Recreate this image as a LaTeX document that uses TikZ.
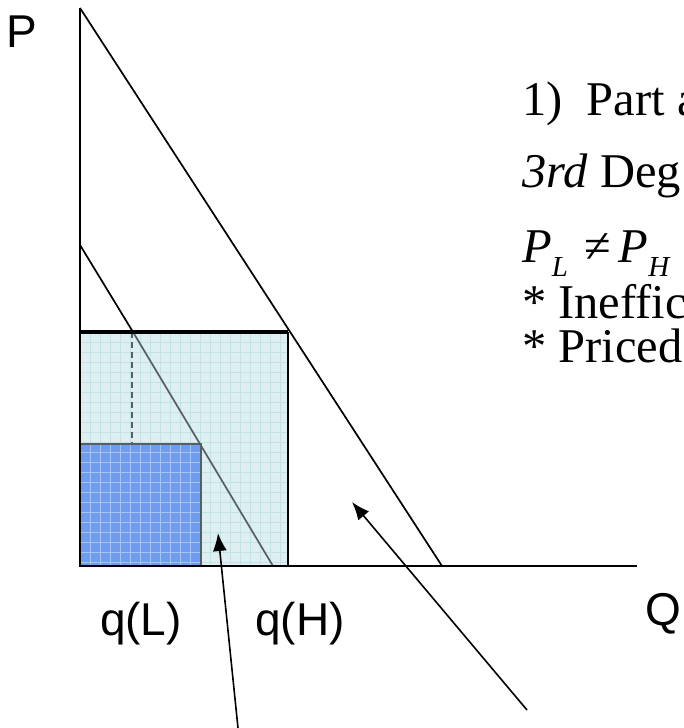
\documentclass[tikz,border=0pt]{standalone}
\usepackage{fontspec}
\setmainfont{Liberation Serif}
\newfontfamily\labelfont{Liberation Sans}
\usetikzlibrary{arrows.meta}
\definecolor{lightfill}{RGB}{221,239,241}
\definecolor{lightgrid}{RGB}{196,226,229}
\definecolor{darkfill}{RGB}{112,156,240}
\definecolor{darkgrid}{RGB}{165,195,247}
\definecolor{grayline}{RGB}{85,95,100}
\tikzset{
  axis/.style={line width=1.8pt, black},
  demand/.style={line width=1.7pt, black},
  lbl/.style={font=\labelfont\fontsize{46}{50}\selectfont, inner sep=0pt, anchor=base},
  txt/.style={font=\fontsize{48.5}{52}\selectfont, inner sep=0pt, anchor=base west},
  pointer/.style={line width=1.6pt, -{Latex[length=18pt,width=14pt]}},
}
\begin{document}
\begin{tikzpicture}[x=1pt,y=-1pt]
\useasboundingbox (0,0) rectangle (684,728);
% coordinates
\coordinate (O) at (80,566);
\coordinate (Ytop) at (80,8);
\coordinate (Xend) at (637,566);
\coordinate (HQ) at (442,566);
\coordinate (LP) at (80,245);
\coordinate (LB) at (133,332);
\coordinate (LQ) at (273,566);
\coordinate (BoxTL) at (80,332);
\coordinate (BoxTR) at (288,332);
\coordinate (BoxBR) at (288,566);
\coordinate (DarkTL) at (80,444);
\coordinate (DarkTR) at (201,444);
\coordinate (DarkBR) at (201,566);
\coordinate (DashTop) at (132,332);
\coordinate (DashBot) at (132,444);
\coordinate (A1tail) at (238,728);
\coordinate (A1tip) at (218,533);
\coordinate (A2tail) at (527,710);
\coordinate (A2tip) at (352,502);
% light box
\fill[lightfill] (BoxTL) rectangle (BoxBR);
\begin{scope}
\clip (BoxTL) rectangle (BoxBR);
\draw[lightgrid, line width=0.7pt, step=10pt, shift={(0,2)}] (70,320) grid (300,580);
\end{scope}
% dark box
\fill[darkfill] (DarkTL) rectangle (DarkBR);
\begin{scope}
\clip (DarkTL) rectangle (DarkBR);
\draw[darkgrid, line width=0.7pt, step=10pt, shift={(0,2)}] (70,430) grid (210,580);
\end{scope}
\draw[grayline, line width=1.6pt] (DarkTL) -- (DarkTR) -- (DarkBR);
\draw[grayline, line width=1.6pt, dash pattern=on 6pt off 4pt] (DashTop) -- (DashBot);
% low demand
\draw[demand] (LP) -- (LB);
\draw[grayline, line width=1.7pt] (LB) -- (LQ);
% box borders
\draw[line width=3.6pt] (BoxTL) -- (BoxTR);
\draw[line width=2.8pt] (BoxTR) -- (BoxBR);
% axes
\draw[axis] (Ytop) -- (O) -- (Xend);
% high demand
\draw[demand] (Ytop) -- (HQ);
% labels
\node[lbl] (p) at (22,47) {P};
\node[lbl] (ql) at (141,635) {q(L)};
\node[lbl] (qh) at (300,635) {q(H)};
\node[lbl] (q) at (663,625) {Q};
% right text
\node[txt] (t1) at (522,115) {1)~~Part a};
\node[txt] (t2) at (522,187) {\textit{3rd} Deg};
\node[txt] (t3) at (522,262) {\textit{P}\raisebox{-0.3em}{\fontsize{29}{30}\selectfont\textit{L}}\,\,≠\,\textit{P}\raisebox{-0.3em}{\fontsize{29}{30}\selectfont\textit{H}}};
\node[txt] (t4) at (522,318) {* Ineffic};
\node[txt] (t5) at (522,362) {* Priced};
% arrows
\draw[pointer] (A1tail) -- (A1tip);
\draw[pointer] (A2tail) -- (A2tip);
\end{tikzpicture}
\end{document}
